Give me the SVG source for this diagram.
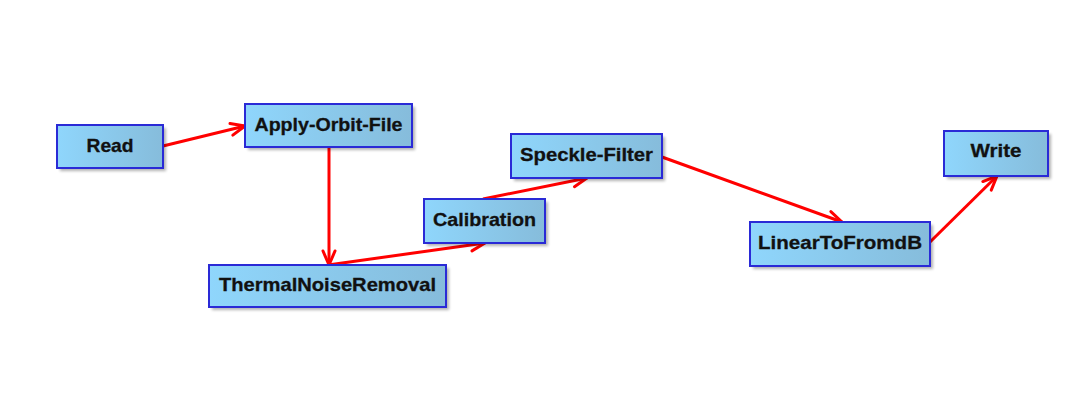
<svg xmlns="http://www.w3.org/2000/svg" width="1090" height="400" viewBox="0 0 1090 400">
<defs>
<linearGradient id="g" x1="0" y1="0" x2="1" y2="0">
<stop offset="0" stop-color="#8fd6fc"/>
<stop offset="1" stop-color="#86bcdb"/>
</linearGradient>
<filter id="sh" x="-20%" y="-20%" width="140%" height="160%">
<feGaussianBlur stdDeviation="1.5"/>
</filter>
<marker id="ah" markerUnits="userSpaceOnUse" markerWidth="20" markerHeight="18" viewBox="0 0 20 18" refX="16" refY="9" orient="auto">
<path d="M2,3 L16,9 L2,15" fill="none" stroke="#ff0000" stroke-width="3" stroke-linejoin="round" stroke-linecap="round"/>
</marker>
<style>
.sh{fill:#000;opacity:0.3;filter:url(#sh)}
.box{fill:url(#g);stroke:#2a2ad6;stroke-width:2}
.lbl{font-family:"Liberation Sans",Arial,sans-serif;font-weight:bold;font-size:19px;fill:#111;stroke:#111;stroke-width:0.3;text-anchor:middle}
.edge{fill:none;stroke:#ff0000;stroke-width:3;marker-end:url(#ah)}
</style>
</defs>
<rect width="1090" height="400" fill="#ffffff"/>
<g id="connectors">
<line class="edge" x1="163" y1="146" x2="245" y2="126"/>
<line class="edge" x1="329" y1="147" x2="329" y2="265"/>
<line class="edge" x1="328" y1="265" x2="485" y2="243"/>
<line class="edge" x1="483" y1="199" x2="587" y2="178"/>
<line class="edge" x1="662" y1="157" x2="842" y2="222"/>
<line class="edge" x1="930" y1="242" x2="997" y2="176"/>
</g>
<g id="node-read">
<rect class="sh" x="60" y="128" width="106" height="43"/>
<rect class="box" x="57" y="125" width="106" height="43"/>
<text class="lbl" x="110" y="152" textLength="47" lengthAdjust="spacingAndGlyphs">Read</text>
</g>
<g id="node-apply-orbit-file">
<rect class="sh" x="248" y="107" width="167" height="43"/>
<rect class="box" x="245" y="104" width="167" height="43"/>
<text class="lbl" x="328.5" y="131" textLength="148" lengthAdjust="spacingAndGlyphs">Apply-Orbit-File</text>
</g>
<g id="node-thermal-noise-removal">
<rect class="sh" x="212" y="268" width="237" height="42"/>
<rect class="box" x="209" y="265" width="237" height="42"/>
<text class="lbl" x="327.5" y="291" textLength="217" lengthAdjust="spacingAndGlyphs">ThermalNoiseRemoval</text>
</g>
<g id="node-calibration">
<rect class="sh" x="427" y="202" width="121" height="44"/>
<rect class="box" x="424" y="199" width="121" height="44"/>
<text class="lbl" x="484.5" y="226" textLength="103" lengthAdjust="spacingAndGlyphs">Calibration</text>
</g>
<g id="node-speckle-filter">
<rect class="sh" x="514" y="137" width="151" height="44"/>
<rect class="box" x="511" y="134" width="151" height="44"/>
<text class="lbl" x="586.5" y="161" textLength="133" lengthAdjust="spacingAndGlyphs">Speckle-Filter</text>
</g>
<g id="node-linear-to-fromdb">
<rect class="sh" x="753" y="225" width="180" height="44"/>
<rect class="box" x="750" y="222" width="180" height="44"/>
<text class="lbl" x="840" y="249" textLength="164" lengthAdjust="spacingAndGlyphs">LinearToFromdB</text>
</g>
<g id="node-write">
<rect class="sh" x="947" y="134" width="104" height="45"/>
<rect class="box" x="944" y="131" width="104" height="45"/>
<text class="lbl" x="996" y="157" textLength="51" lengthAdjust="spacingAndGlyphs">Write</text>
</g>
</svg>
